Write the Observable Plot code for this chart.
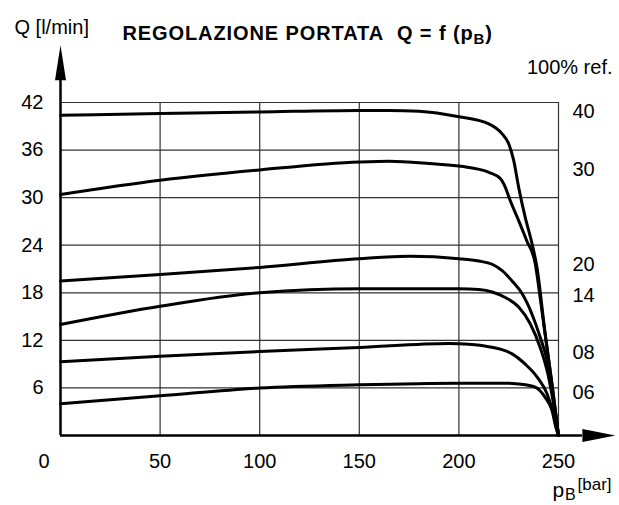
<!DOCTYPE html>
<html>
<head>
<meta charset="utf-8">
<script src="https://cdn.jsdelivr.net/npm/d3@7"></script>
<script src="https://cdn.jsdelivr.net/npm/@observablehq/plot@0.6"></script>
<style>
  html, body { margin: 0; padding: 0; background: #fff; }
</style>
</head>
<body>
<div id="chart"></div>
<script>
// ---- data ----
const xTicks = [50, 100, 150, 200, 250];
const yTicks = [6, 12, 18, 24, 30, 36, 42];
const refNames = ["40", "30", "20", "14", "08", "06"];
const refLabelQ = [40.8, 33.6, 21.6, 17.6, 10.4, 5.4];

const p40 = [0, 50, 100, 150, 165, 180, 200, 215, 221.5, 225, 227.5, 230, 233.3, 236.7, 239.2, 243.3, 246.7, 250];
const q40 = [40.4, 40.6, 40.8, 41.0, 41.0, 40.9, 40.2, 39.3, 38.1, 36.8, 34.7, 31.3, 27.5, 24.2, 21.2, 12.8, 6.5, 0];

const p30 = [0, 50, 100, 150, 165, 185, 205, 215, 220.8, 223.3, 225.8, 230, 234, 238.3, 241, 244, 247, 250];
const q30 = [30.4, 32.2, 33.5, 34.5, 34.6, 34.3, 33.8, 33.2, 32.4, 31.3, 29.6, 27.1, 24.6, 21.7, 17.0, 11.5, 6.0, 0];

const p20 = [0, 50, 100, 150, 175, 200, 210, 216.7, 221.7, 226.7, 231.7, 236.7, 240.8, 244.2, 246.7, 250];
const q20 = [19.5, 20.3, 21.2, 22.3, 22.6, 22.3, 22.0, 21.6, 20.8, 19.5, 17.9, 15.3, 12.4, 9.5, 5.7, 0];

const p14 = [0, 50, 100, 150, 200, 210, 216.7, 223.3, 230, 235.8, 240.8, 245, 247.5, 250];
const q14 = [14.0, 16.3, 18.0, 18.5, 18.5, 18.4, 18.1, 17.4, 16.2, 14.1, 11.1, 7.4, 4.0, 0];

const p08 = [0, 50, 100, 150, 195, 205, 215, 222, 226.7, 233.3, 239.2, 244.2, 247.5, 250];
const q08 = [9.3, 10.0, 10.6, 11.1, 11.6, 11.5, 11.2, 10.8, 10.3, 9.0, 7.4, 5.3, 2.7, 0];

const p06 = [0, 50, 100, 150, 200, 225, 230, 238.3, 243.3, 246.7, 248.7, 250];
const q06 = [4.0, 5.0, 6.0, 6.4, 6.6, 6.6, 6.5, 6.1, 4.8, 3.2, 1.0, 0];

// ---- build tables ----
const seriesP = [p40, p30, p20, p14, p08, p06];
const seriesQ = [q40, q30, q20, q14, q08, q06];
const rows = [];
refNames.forEach((name, i) => {
  seriesP[i].forEach((p, j) => rows.push({ref: name, p, q: seriesQ[i][j]}));
});
const labelRows = refNames.map((name, i) => ({name, q: refLabelQ[i]}));

// axis extents (arrow bases) and arrowhead shapes
const yAxisTop = 44.8;
const xAxisEnd = 262;
const arrowUp = { draw(ctx) { ctx.moveTo(0, -35); ctx.lineTo(5.5, 0); ctx.lineTo(-5.5, 0); ctx.closePath(); } };
const arrowRight = { draw(ctx) { ctx.moveTo(33, 0); ctx.lineTo(0, -6.5); ctx.lineTo(0, 6.5); ctx.closePath(); } };

const FONT = "'Liberation Sans', Arial, Helvetica, sans-serif";
const gridColor = "#333";
const FS = 20;

const chart = Plot.plot({
  width: 619,
  height: 505,
  marginLeft: 60,
  marginRight: 61,
  marginTop: 102,
  marginBottom: 70,
  style: { fontFamily: FONT, fontSize: FS + "px", background: "#fff", color: "#000", overflow: "visible" },
  x: { domain: [0, 250], axis: null },
  y: { domain: [0, 42], axis: null },
  marks: [
    Plot.gridX(xTicks, { stroke: gridColor, strokeOpacity: 1, strokeWidth: 1.2 }),
    Plot.gridY(yTicks, { stroke: gridColor, strokeOpacity: 1, strokeWidth: 1.2 }),
    Plot.axisY({ ticks: yTicks, tickSize: 0, tickPadding: 17, fontSize: FS, label: null }),
    Plot.axisX({ ticks: xTicks, tickSize: 0, tickPadding: 18, fontSize: FS, label: null }),
    Plot.text(["0"], { frameAnchor: "bottom-left", lineAnchor: "middle", dx: -22, dy: 26, fontSize: FS }),
    Plot.line(rows, { x: "p", y: "q", z: "ref", curve: "monotone-x", stroke: "#000", strokeWidth: 3, strokeLinejoin: "round" }),
    Plot.ruleX([0], { y1: 0, y2: yAxisTop, stroke: "#000", strokeWidth: 2.5 }),
    Plot.ruleY([0], { x1: 0, x2: xAxisEnd, stroke: "#000", strokeWidth: 2.5 }),
    Plot.dot([0], { x: () => 0, y: () => yAxisTop, symbol: arrowUp, fill: "#000", stroke: null }),
    Plot.dot([0], { x: () => xAxisEnd, y: () => 0, symbol: arrowRight, fill: "#000", stroke: null }),
    Plot.text(labelRows, { y: "q", text: "name", frameAnchor: "right", lineAnchor: "middle", textAnchor: "start", dx: 14, fontSize: FS }),
    Plot.text(["Q [l/min]"], { frameAnchor: "top-left", lineAnchor: "middle", textAnchor: "start", dx: -46, dy: -75.4, fontSize: FS }),
    Plot.text(["REGOLAZIONE PORTATA\u00a0 Q = f (pB)"], { frameAnchor: "top-left", lineAnchor: "middle", textAnchor: "start", dx: 62, dy: -68.6, fontSize: 20, fontWeight: "bold" }),
    Plot.text(["100% ref."], { frameAnchor: "top-right", lineAnchor: "middle", textAnchor: "end", dx: 54, dy: -35.4, fontSize: FS }),
    Plot.text(["p"], { frameAnchor: "bottom-right", lineAnchor: "middle", textAnchor: "start", dx: -6, dy: 55, fontSize: 21 }),
    Plot.text(["B"], { frameAnchor: "bottom-right", lineAnchor: "middle", textAnchor: "start", dx: 6.5, dy: 59.5, fontSize: 16 }),
    Plot.text(["[bar]"], { frameAnchor: "bottom-right", lineAnchor: "middle", textAnchor: "start", dx: 19, dy: 49.5, fontSize: 17 })
  ]
});

// subscript B in the title, slightly tracked like the reference lettering
chart.querySelectorAll("text").forEach(t => {
  if (t.textContent.startsWith("REGOLAZIONE")) {
    t.setAttribute("letter-spacing", "0.9");
    t.innerHTML = "REGOLAZIONE PORTATA\u00a0 Q = f (p<tspan dy=\"4\" font-size=\"15\">B</tspan><tspan dy=\"-4\">)</tspan>";
  }
});

document.getElementById("chart").appendChild(chart);
</script>
</body>
</html>
